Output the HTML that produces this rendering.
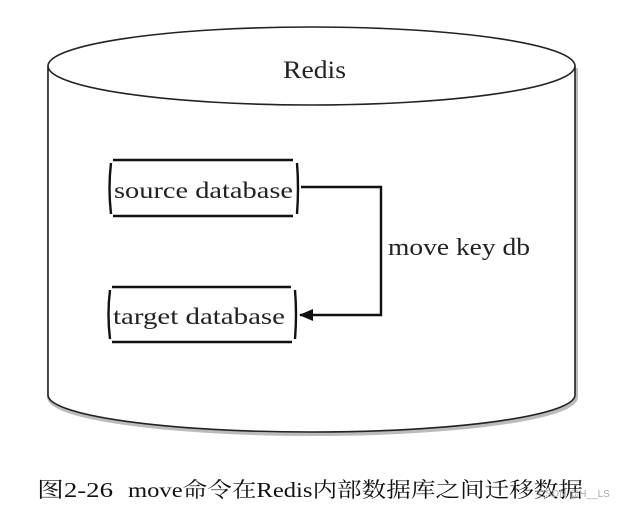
<!DOCTYPE html>
<html><head><meta charset="utf-8"><style>
html,body{margin:0;padding:0;background:#fff;}
svg{display:block}
</style></head><body>
<svg width="622" height="506" viewBox="0 0 622 506" xmlns="http://www.w3.org/2000/svg">
<defs>
<marker id="ah" markerWidth="14" markerHeight="12" refX="13" refY="6" orient="auto" markerUnits="userSpaceOnUse">
<path d="M0,0 L14,6 L0,12 Z" fill="#111"/></marker>
</defs>
<g fill="none" stroke="#222" stroke-width="1.6">
<path d="M48,66 L48,395 A263.5,37 0 0 0 575,395 L575,66" fill="#fff" stroke="#bbb" stroke-width="4" transform="translate(1,2)"/>
<path d="M48,66 L48,395 A263.5,37 0 0 0 575,395 L575,66" fill="#fff"/>
<ellipse cx="311.5" cy="66" rx="263.5" ry="39" fill="#fff"/>
</g>
<g stroke="#111" stroke-width="2.4" fill="none">
<line x1="113" y1="160" x2="293" y2="160"/><line x1="113" y1="216" x2="293" y2="216"/>
<path d="M111,163 Q108,188 111,214"/><path d="M297,163 Q299,188 297,214"/>
<line x1="112" y1="287" x2="291" y2="287"/><line x1="112" y1="342" x2="292" y2="342"/>
<path d="M110,290 Q107,314 110,339"/><path d="M295,290 Q297,314 295,339"/>
<polyline points="301,187 381,187 381,315 300,315" marker-end="url(#ah)"/>
</g>
<g font-family="'Liberation Serif',serif" fill="#222">
<text x="283" y="78" font-size="25" textLength="63" lengthAdjust="spacingAndGlyphs">Redis</text>
<text x="114" y="198" font-size="23" textLength="179" lengthAdjust="spacingAndGlyphs">source database</text>
<text x="113" y="324" font-size="23" textLength="172" lengthAdjust="spacingAndGlyphs">target database</text>
<text x="388" y="255" font-size="24" textLength="142" lengthAdjust="spacingAndGlyphs">move key db</text>
</g>
<text y="497" font-size="21" fill="#111" font-family="'Liberation Serif','Noto Serif CJK SC',serif"><tspan x="37" textLength="76" lengthAdjust="spacingAndGlyphs">图2-26</tspan><tspan x="128" textLength="455" lengthAdjust="spacingAndGlyphs">move命令在Redis内部数据库之间迁移数据</tspan></text>
<text x="538" y="497" font-size="10" fill="#aaa" font-family="'Liberation Sans',sans-serif">CSDN @H__LS</text>
</svg>
</body></html>
